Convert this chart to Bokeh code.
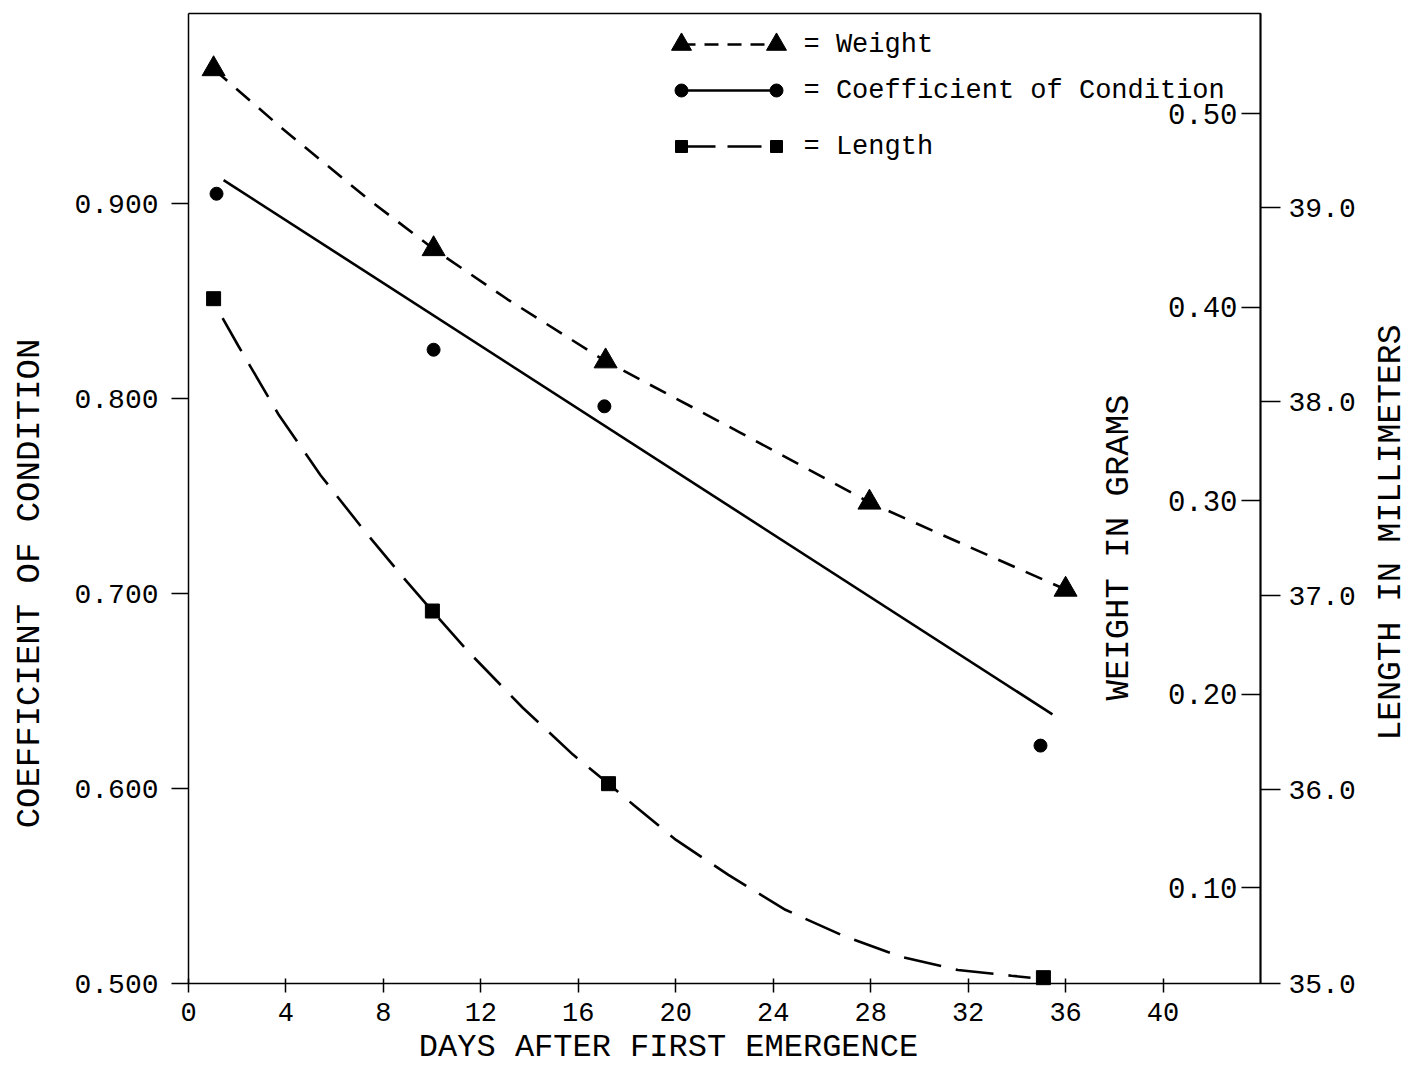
import math
from bokeh.plotting import figure
from bokeh.models import Range1d, LinearAxis, FixedTicker, PrintfTickFormatter, Label
from bokeh.embed import file_html
from bokeh.resources import INLINE

# ---------------- data ----------------
weight_days = [1.03, 10.06, 17.12, 27.95, 36.0]
weight_grams = [0.523, 0.430, 0.372, 0.299, 0.254]

weight_curve_days = [1.03, 3.78, 7.35, 10.06, 13.09, 17.12, 22.66, 27.95, 31.69, 36.0]
weight_curve_grams = [0.523, 0.493, 0.456, 0.430, 0.404, 0.372, 0.335, 0.299, 0.278, 0.254]

cond_days = [1.15, 10.06, 17.07, 34.97]
cond_values = [0.905, 0.825, 0.796, 0.622]

cond_fit_days = [1.44, 35.46]
cond_fit_values = [0.912, 0.638]

length_days = [1.03, 10.01, 17.24, 35.09]
length_mm = [38.53, 36.92, 36.03, 35.03]

length_curve_days = [1.40, 2.03, 3.71, 5.42, 7.24, 8.97, 10.01, 11.49, 13.73, 15.78,
                     17.24, 18.27, 20.01, 22.16, 24.50, 26.80, 29.18, 31.58, 33.78, 34.56]
length_curve_mm = [38.43, 38.29, 37.93, 37.62, 37.33, 37.07, 36.92, 36.71, 36.42, 36.18,
                   36.03, 35.92, 35.74, 35.56, 35.38, 35.25, 35.14, 35.07, 35.04, 35.03]

x_ticks = [0, 4, 8, 12, 16, 20, 24, 28, 32, 36, 40]
cond_ticks = [0.5, 0.6, 0.7, 0.8, 0.9]
weight_ticks = [0.1, 0.2, 0.3, 0.4, 0.5]
length_ticks = [35.0, 36.0, 37.0, 38.0, 39.0]

legend_names = ["= Weight", "= Coefficient of Condition", "= Length"]
axis_titles = ["COEFFICIENT OF CONDITION", "WEIGHT IN GRAMS", "LENGTH IN MILLIMETERS",
               "DAYS AFTER FIRST EMERGENCE"]

# ---------------- layout / style ----------------
W, H = 1410, 1070
# plot box in page pixels
FL, FR, FT, FB = 188, 1260, 13, 983
# axis extents of the plot box
X0, X1 = 0.0, 44.0
C0, C1 = 0.5, 0.99744
W0, W1 = 0.0504, 0.5517
L0, L1 = 35.0, 40.0
FONT = "Liberation Mono"


def px_day(px):
    return X0 + (px - FL) * (X1 - X0) / (FR - FL)


def py_val(py, lo, hi):
    return lo + (FB - py) * (hi - lo) / (FB - FT)


def py_cond(py):
    return py_val(py, C0, C1)


# the frame covers the whole page; the plot box is drawn inside it
p = figure(width=W, height=H, output_backend="svg", toolbar_location=None, title=None,
           x_range=Range1d(px_day(0), px_day(W)),
           y_range=Range1d(py_cond(H), py_cond(0)),
           min_border_left=0, min_border_right=0, min_border_top=0, min_border_bottom=0,
           background_fill_color="white", border_fill_color="white")
p.extra_y_ranges = {
    "weight": Range1d(py_val(H, W0, W1), py_val(0, W0, W1)),
    "length": Range1d(py_val(H, L0, L1), py_val(0, L0, L1)),
}
p.xgrid.visible = False
p.ygrid.visible = False
p.outline_line_color = None


def style_axis(ax, size):
    ax.axis_line_color = "black"
    ax.axis_line_width = 1.5
    ax.major_tick_line_color = "black"
    ax.major_tick_line_width = 1.5
    ax.minor_tick_line_color = None
    ax.major_label_text_font = FONT
    ax.major_label_text_font_size = size
    ax.major_label_text_color = "black"


xax = p.xaxis[0]
style_axis(xax, "27px")
xax.fixed_location = C0
xax.bounds = (X0, X1)
xax.ticker = FixedTicker(ticks=x_ticks)
xax.major_tick_in = 5
xax.major_tick_out = 9
xax.major_label_standoff = 10

cax = p.yaxis[0]
style_axis(cax, "28px")
cax.fixed_location = X0
cax.bounds = (C0, C1)
cax.ticker = FixedTicker(ticks=cond_ticks)
cax.formatter = PrintfTickFormatter(format="%.3f")
cax.major_tick_in = 0
cax.major_tick_out = 17
cax.major_label_standoff = 13

wax = LinearAxis(y_range_name="weight", fixed_location=X1, bounds=(W0, W1))
style_axis(wax, "29px")
wax.ticker = FixedTicker(ticks=weight_ticks)
wax.formatter = PrintfTickFormatter(format="%.2f")
wax.major_tick_in = 0
wax.major_tick_out = 19
wax.major_label_standoff = 4
p.add_layout(wax, "left")

lax = LinearAxis(y_range_name="length", fixed_location=X1, bounds=(L0, L1))
style_axis(lax, "28px")
lax.ticker = FixedTicker(ticks=length_ticks)
lax.formatter = PrintfTickFormatter(format="%.1f")
lax.major_tick_in = 0
lax.major_tick_out = 20
lax.major_label_standoff = 8
p.add_layout(lax, "right")

# top and right edges of the plot box
p.line([X0, X1, X1], [C1, C1, C0], line_color="black", line_width=1.5)

LW = 2.6
# weight
p.line(weight_curve_days, weight_curve_grams, y_range_name="weight", line_color="black",
       line_width=LW, line_dash="18 12")
p.scatter(weight_days, weight_grams, y_range_name="weight", marker="triangle", size=23,
          fill_color="black", line_color="black")
# coefficient of condition
p.line(cond_fit_days, cond_fit_values, line_color="black", line_width=LW)
p.scatter(cond_days, cond_values, marker="circle", size=13, fill_color="black",
          line_color="black")
# length
p.line(length_curve_days, length_curve_mm, y_range_name="length", line_color="black",
       line_width=LW, line_dash="38 15")
p.scatter(length_days, length_mm, y_range_name="length", marker="square", size=14,
          fill_color="black", line_color="black")

# ---------------- legend (drawn by hand: marker - line - marker) ----------------
leg_rows = [44, 90, 146]
leg_markers = ["triangle", "circle", "square"]
leg_sizes = [20, 13, 12]
leg_dash = ["14 9", "solid", "34 12"]
leg_x = [px_day(681), px_day(776)]
for row, mk, sz, dash, name in zip(leg_rows, leg_markers, leg_sizes, leg_dash, legend_names):
    yy = py_cond(row)
    p.line(leg_x, [yy, yy], line_color="black", line_width=LW, line_dash=dash)
    p.scatter(leg_x, [yy, yy], marker=mk, size=sz, fill_color="black", line_color="black")
    p.add_layout(Label(x=px_day(803), y=yy, text=name, text_font=FONT,
                       text_font_size="27px", text_align="left", text_baseline="middle",
                       text_color="black"))

# ---------------- axis titles ----------------
title_pos = [(29, 583, math.pi / 2, "34px"), (1118, 547, math.pi / 2, "34px"),
             (1391, 532, math.pi / 2, "33px"), (668, 1047, 0, "32px")]
for text, (px, py, ang, fs) in zip(axis_titles, title_pos):
    p.add_layout(Label(x=px_day(px), y=py_cond(py), text=text, text_font=FONT,
                       text_font_size=fs, text_align="center", text_baseline="middle",
                       angle=ang, text_color="black"))

open("out.html", "w").write(file_html(p, INLINE))
